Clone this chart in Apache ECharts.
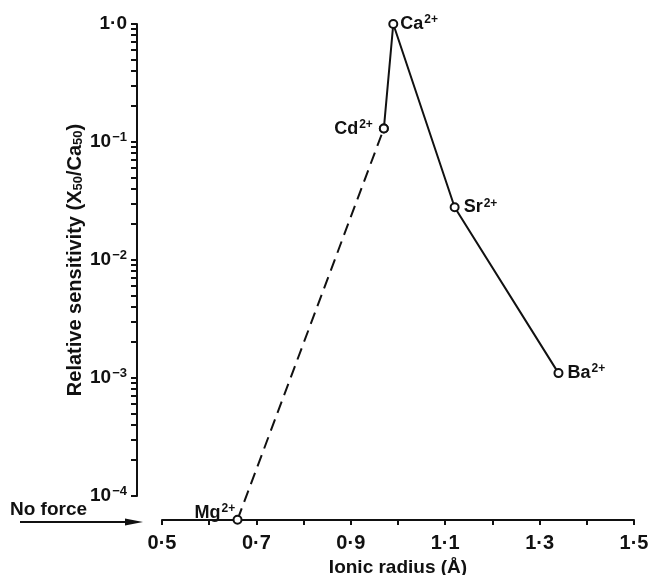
<!DOCTYPE html>
<html>
<head>
<meta charset="utf-8">
<script src="https://cdn.jsdelivr.net/npm/echarts@6/dist/echarts.min.js"></script>
<style>
html,body{margin:0;padding:0;background:#fff;}
#chart{width:652px;height:575px;}
</style>
</head>
<body>
<div id="chart"></div>
<script>
// ---- data ----
var ions = ['Mg', 'Cd', 'Ca', 'Sr', 'Ba'];
var ionicRadius = [0.66, 0.97, 0.99, 1.12, 1.34];
var relSensitivity = [6.3e-5, 0.13, 1.0, 0.028, 0.0011]; // Mg: "No force" (drawn on baseline)
var xTickLabelValues = [0.5, 0.7, 0.9, 1.1, 1.3, 1.5];
var xTickLabels = ['0·5', '0·7', '0·9', '1·1', '1·3', '1·5'];
var yMajorValues = [1, 0.1, 0.01, 0.001, 0.0001];
var yTickLabels = ['1·0', '10{s|−1}', '10{s|−2}', '10{s|−3}', '10{s|−4}'];
var yMinorMultipliers = [1, 2, 3, 4, 5, 6, 7, 8, 9];

var yTickValues = [];
yMajorValues.forEach(function (d) {
  if (d < 1) {
    yMinorMultipliers.forEach(function (m) { yTickValues.push(+(m * d).toPrecision(3)); });
  } else {
    yTickValues.push(d);
  }
});

var FONT = '"Liberation Sans", Arial, sans-serif';
var INK = '#111';
var Y_OFFSET = 25;
var X_OFFSET = 24;

var dashedData = [[ionicRadius[0], relSensitivity[0], ions[0]], [ionicRadius[1], relSensitivity[1], ions[1]]];
var solidData = [];
for (var i = 1; i < ions.length; i++) solidData.push([ionicRadius[i], relSensitivity[i], ions[i]]);

var labelRich = {
  b: { fontSize: 18, fontWeight: 'bold', fontFamily: FONT, color: INK },
  s: { fontSize: 12, fontWeight: 'bold', fontFamily: FONT, color: INK, verticalAlign: 'top', padding: [0, 0, 8, 1] }
};

var labelPos = { Mg: [-38, -12], Cd: 'left', Ca: 'right', Sr: 'right', Ba: 'right' };
var labelDist = { Mg: 0, Cd: 6, Ca: 2, Sr: 4, Ba: 4 };

function decorate(arr) {
  return arr.map(function (d) {
    return {
      value: d,
      label: { position: labelPos[d[2]], distance: labelDist[d[2]] }
    };
  });
}

var chart = echarts.init(document.getElementById('chart'), null, { renderer: 'canvas' });
chart.setOption({
  backgroundColor: '#fff',
  animation: false,
  grid: { left: 162, right: 18, top: 24, bottom: 79, containLabel: false, outerBoundsMode: 'none' },
  xAxis: {
    type: 'value',
    min: 0.5, max: 1.5, interval: 0.1,
    offset: X_OFFSET,
    name: 'Ionic radius (Å)',
    nameLocation: 'middle',
    nameGap: 38,
    nameMoveOverlap: false,
    nameTextStyle: { fontSize: 19, fontWeight: 'bold', fontFamily: FONT, color: INK },
    axisLine: { show: true, lineStyle: { color: INK, width: 2 } },
    axisTick: { show: true, length: 5, lineStyle: { color: INK, width: 2 } },
    axisLabel: {
      customValues: xTickLabelValues,
      margin: 13,
      fontSize: 20, fontWeight: 'bold', fontFamily: FONT, color: INK,
      formatter: function (v) {
        for (var k = 0; k < xTickLabelValues.length; k++) if (Math.abs(v - xTickLabelValues[k]) < 1e-6) return xTickLabels[k];
        return '';
      }
    },
    splitLine: { show: false }
  },
  yAxis: {
    type: 'log',
    logBase: 10,
    min: 0.0001, max: 1,
    offset: Y_OFFSET,
    name: 'Relative sensitivity (X{sub|50}/Ca{sub|50})',
    nameLocation: 'middle',
    nameGap: 52,
    nameMoveOverlap: false,
    nameTextStyle: {
      fontSize: 20, fontWeight: 'bold', fontFamily: FONT, color: INK,
      rich: {
        sub: { fontSize: 13, fontWeight: 'bold', fontFamily: FONT, color: INK, verticalAlign: 'bottom', padding: [6, 0, 0, 0] }
      }
    },
    axisLine: { show: true, lineStyle: { color: INK, width: 2 } },
    axisTick: { show: false },
    axisLabel: {
      customValues: yMajorValues,
      margin: 10,
      fontSize: 19, fontWeight: 'bold', fontFamily: FONT, color: INK,
      rich: {
        s: { fontSize: 13, fontWeight: 'bold', fontFamily: FONT, color: INK, verticalAlign: 'top', padding: [0, 0, 9, 1] }
      },
      formatter: function (v) {
        for (var k = 0; k < yMajorValues.length; k++) if (Math.abs(Math.log10(v) - Math.log10(yMajorValues[k])) < 1e-3) return yTickLabels[k];
        return '';
      }
    },
    splitLine: { show: false }
  },
  graphic: [
    { type: 'text', left: 10, top: 500, style: { text: 'No force', font: 'bold 19px ' + FONT, fill: INK } },
    { type: 'line', shape: { x1: 20, y1: 522, x2: 130, y2: 522 }, style: { stroke: INK, lineWidth: 2 } },
    { type: 'polygon', shape: { points: [[125, 518.5], [143, 522], [125, 525.5]] }, style: { fill: INK } }
  ],
  series: [
    {
      // log-spaced tick marks on the (offset) y axis
      type: 'custom',
      clip: false,
      silent: true,
      data: yTickValues.map(function (v) { return [0.5, v]; }),
      encode: { x: 0, y: 1 },
      renderItem: function (params, api) {
        var pt = api.coord([api.value(0), api.value(1)]);
        var x = pt[0] - Y_OFFSET;
        var y = Math.round(pt[1]);
        return {
          type: 'line',
          shape: { x1: x - 6, y1: y, x2: x, y2: y },
          style: { stroke: INK, lineWidth: 2 }
        };
      },
      z: 1
    },
    {
      type: 'line',
      data: decorate(dashedData),
      clip: false,
      symbol: 'circle', symbolSize: 8,
      showSymbol: true,
      itemStyle: { color: '#fff', borderColor: INK, borderWidth: 2 },
      lineStyle: { color: INK, width: 2, type: [12, 7] },
      label: { show: true, formatter: function (p) { return p.data.value[2] === 'Mg' ? '{b|Mg}{s|2+}' : ''; }, rich: labelRich },
      z: 2
    },
    {
      type: 'line',
      data: decorate(solidData),
      clip: false,
      symbol: 'circle', symbolSize: 8,
      showSymbol: true,
      itemStyle: { color: '#fff', borderColor: INK, borderWidth: 2 },
      lineStyle: { color: INK, width: 2 },
      label: { show: true, formatter: function (p) { return '{b|' + p.data.value[2] + '}{s|2+}'; }, rich: labelRich },
      z: 3
    }
  ]
});
</script>
</body>
</html>
